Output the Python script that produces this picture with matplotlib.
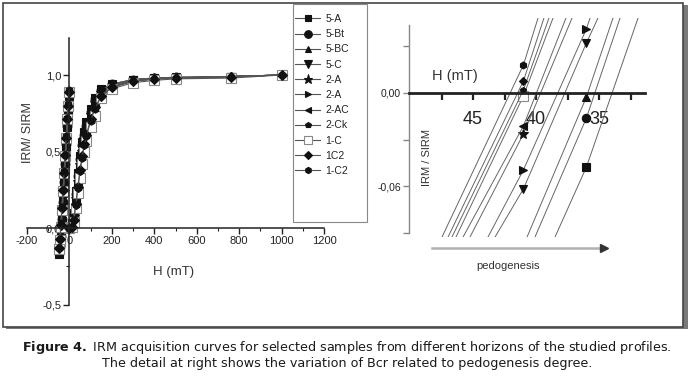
import matplotlib
matplotlib.use("Agg")
import matplotlib.pyplot as plt
from matplotlib.patches import Rectangle
from matplotlib.lines import Line2D
import numpy as np

plt.rcParams['font.family'] = ['Liberation Sans', 'DejaVu Sans']
plt.rcParams['mathtext.fontset'] = 'dejavusans'

# ---------------- data ----------------
series_labels = ['5-A', '5-Bt', '5-BC', '5-C', '2-A', '2-A', '2-AC', '2-Ck', '1-C', '1C2', '1-C2']

fwd_H = [0, 10, 20, 30, 40, 50, 60, 70, 80, 100, 120, 150, 200, 300, 400, 500, 760, 1000]
back_H = [-2, -6, -10, -15, -20, -25, -30, -35, -40, -45, -50]

fwd_5A  = [0.00, 0.03, 0.10, 0.24, 0.36, 0.47, 0.56, 0.63, 0.69, 0.78, 0.85, 0.91, 0.94, 0.97, 0.98, 0.985, 0.99, 1.00]
fwd_5Bt = [0.00, 0.03, 0.09, 0.22, 0.34, 0.45, 0.54, 0.61, 0.67, 0.76, 0.84, 0.90, 0.94, 0.97, 0.98, 0.985, 0.99, 1.00]
fwd_5BC = [0.00, 0.02, 0.08, 0.21, 0.33, 0.44, 0.53, 0.60, 0.66, 0.76, 0.83, 0.90, 0.94, 0.97, 0.98, 0.985, 0.99, 1.00]
fwd_5C  = [0.00, 0.02, 0.07, 0.19, 0.31, 0.42, 0.51, 0.58, 0.64, 0.74, 0.82, 0.89, 0.93, 0.97, 0.98, 0.98, 0.99, 1.00]
fwd_2As = [0.00, 0.02, 0.07, 0.19, 0.30, 0.41, 0.50, 0.58, 0.64, 0.74, 0.82, 0.88, 0.93, 0.96, 0.98, 0.98, 0.99, 1.00]
fwd_2Ar = [0.00, 0.02, 0.06, 0.18, 0.29, 0.40, 0.49, 0.57, 0.63, 0.73, 0.81, 0.88, 0.93, 0.96, 0.975, 0.98, 0.99, 1.00]
fwd_2AC = [0.00, 0.02, 0.07, 0.18, 0.30, 0.41, 0.50, 0.57, 0.63, 0.73, 0.81, 0.88, 0.93, 0.96, 0.975, 0.98, 0.99, 1.00]
fwd_2Ck = [0.00, 0.01, 0.06, 0.17, 0.28, 0.39, 0.48, 0.56, 0.62, 0.72, 0.80, 0.87, 0.92, 0.96, 0.975, 0.98, 0.99, 1.00]
fwd_1C  = [0.00, 0.01, 0.04, 0.13, 0.23, 0.33, 0.42, 0.50, 0.57, 0.66, 0.73, 0.85, 0.91, 0.95, 0.965, 0.975, 0.98, 1.00]
fwd_1C2a = [0.00, 0.01, 0.05, 0.16, 0.27, 0.38, 0.47, 0.55, 0.61, 0.71, 0.79, 0.86, 0.92, 0.96, 0.975, 0.98, 0.99, 1.00]
fwd_1C2b = [0.00, 0.01, 0.05, 0.15, 0.26, 0.37, 0.46, 0.54, 0.60, 0.70, 0.78, 0.86, 0.92, 0.96, 0.975, 0.98, 0.99, 1.00]

back_5A  = [0.86, 0.76, 0.66, 0.53, 0.40, 0.27, 0.14, 0.03, -0.08, -0.14, -0.17]
back_5Bt = [0.87, 0.77, 0.67, 0.55, 0.42, 0.30, 0.17, 0.06, -0.05, -0.12, -0.16]
back_5BC = [0.87, 0.78, 0.68, 0.56, 0.43, 0.31, 0.18, 0.07, -0.04, -0.11, -0.16]
back_5C  = [0.88, 0.78, 0.69, 0.57, 0.45, 0.33, 0.21, 0.09, -0.02, -0.10, -0.15]
back_2As = [0.88, 0.79, 0.70, 0.58, 0.46, 0.34, 0.22, 0.11, 0.00, -0.09, -0.15]
back_2Ar = [0.88, 0.78, 0.69, 0.57, 0.45, 0.33, 0.21, 0.09, -0.02, -0.10, -0.15]
back_2AC = [0.88, 0.79, 0.70, 0.58, 0.46, 0.35, 0.23, 0.11, 0.00, -0.09, -0.14]
back_2Ck = [0.89, 0.80, 0.71, 0.59, 0.47, 0.36, 0.24, 0.12, 0.01, -0.08, -0.14]
back_1C  = [0.89, 0.80, 0.71, 0.59, 0.47, 0.36, 0.24, 0.12, 0.01, -0.08, -0.14]
back_1C2a = [0.89, 0.80, 0.71, 0.59, 0.48, 0.36, 0.25, 0.13, 0.02, -0.07, -0.13]
back_1C2b = [0.90, 0.81, 0.72, 0.60, 0.48, 0.37, 0.25, 0.14, 0.03, -0.07, -0.13]

fwd_values = [fwd_5A, fwd_5Bt, fwd_5BC, fwd_5C, fwd_2As, fwd_2Ar, fwd_2AC, fwd_2Ck, fwd_1C, fwd_1C2a, fwd_1C2b]
back_values = [back_5A, back_5Bt, back_5BC, back_5C, back_2As, back_2Ar, back_2AC, back_2Ck, back_1C, back_1C2a, back_1C2b]

# detail (backfield near Bcr), |H| in mT and IRM/SIRM
det_H_5A  = [38.49, 36.0, 31.90]
det_V_5A  = [-0.0926, -0.0476, 0.0482]
det_H_5Bt = [40.08, 36.0, 33.33]
det_V_5Bt = [-0.0926, -0.0161, 0.0482]
det_H_5BC = [40.71, 36.0, 33.89]
det_V_5BC = [-0.0926, -0.0026, 0.0482]
det_H_5C  = [43.25, 41.0, 36.0, 35.08]
det_V_5C  = [-0.0926, -0.0617, 0.0322, 0.0482]
det_H_2As = [45.24, 41.0, 37.14]
det_V_2As = [-0.0926, -0.0264, 0.0482]
det_H_2Ar = [43.81, 41.0, 36.0, 35.71]
det_V_2Ar = [-0.0926, -0.0495, 0.0412, 0.0482]
det_H_2AC = [45.79, 41.0, 37.62]
det_V_2AC = [-0.0926, -0.0212, 0.0482]
det_H_2Ck = [46.67, 41.0, 38.97]
det_V_2Ck = [-0.0926, 0.0019, 0.0482]
det_H_1C  = [46.35, 41.0, 38.65]
det_V_1C  = [-0.0926, -0.0019, 0.0482]
det_H_1C2a = [46.98, 41.0, 39.37]
det_V_1C2a = [-0.0926, 0.0077, 0.0482]
det_H_1C2b = [47.46, 41.0, 39.84]
det_V_1C2b = [-0.0926, 0.0180, 0.0482]

det_H = [det_H_5A, det_H_5Bt, det_H_5BC, det_H_5C, det_H_2As, det_H_2Ar, det_H_2AC, det_H_2Ck, det_H_1C, det_H_1C2a, det_H_1C2b]
det_V = [det_V_5A, det_V_5Bt, det_V_5BC, det_V_5C, det_V_2As, det_V_2Ar, det_V_2AC, det_V_2Ck, det_V_1C, det_V_1C2a, det_V_1C2b]

main_xticks = [-200, 0, 200, 400, 600, 800, 1000, 1200]
main_yticks = [-0.5, 0.0, 0.5, 1.0]
main_yticklabels = ['-0,5', '0,0', '0,5', '1,0']
det_xticks = [47.5, 45, 42.5, 40, 37.5, 35, 32.5]
det_xticklabels = ['', '45', '', '40', '', '35', '']
det_yticks = [0.03, 0.0, -0.03, -0.06, -0.09]
det_yticklabels = ['', '0,00', '', '-0,06', '']

# ---------------- styles ----------------
markers = ['s', 'o', '^', 'v', '*', '>', '<', 'p', 's', 'D', 'h']
msizes = [5, 5.5, 5, 5.5, 6.5, 5, 5, 4, 6, 4, 4.5]
mfcs = ['#111'] * 8 + ['white', '#111', '#111']
mecs = ['#111'] * 8 + ['#888', '#111', '#111']

W, H = 694, 381
fig = plt.figure(figsize=(W / 100, H / 100), dpi=100)
fig.patch.set_facecolor('white')

def fx(px):
    return px / W

def fy(py):
    return 1 - py / H

# outer frame with shadow
fig.add_artist(Rectangle((fx(6), fy(329)), fx(682), 324 / H, transform=fig.transFigure,
                         facecolor='#7a7a7a', edgecolor='none', zorder=-3))
fig.add_artist(Rectangle((fx(2.5), fy(327)), fx(680), 324 / H, transform=fig.transFigure,
                         facecolor='white', edgecolor='#444', lw=1.2, zorder=-2))

# ---------------- main axes ----------------
ax = fig.add_axes([fx(27), fy(312.2), fx(297), 283.1 / H])
ax.set_facecolor('none')
ax.set_xlim(-200, 1200)
ax.set_ylim(-0.55, 1.3)

handles = []
for i in range(len(series_labels)):
    kw = dict(color='#555', lw=0.8, marker=markers[i], ms=msizes[i] + 0.8,
              mfc=mfcs[i], mec=mecs[i], mew=0.8)
    h, = ax.plot(fwd_H, fwd_values[i], **kw)
    ax.plot(back_H, back_values[i], **kw)
    handles.append(h)

for s in ['top', 'right']:
    ax.spines[s].set_visible(False)
ax.spines['left'].set_position(('data', 0))
ax.spines['bottom'].set_position(('data', 0))
ax.spines['left'].set_bounds(-0.5, 1.24)
ax.spines['bottom'].set_bounds(-200, 1200)
for s in ['left', 'bottom']:
    ax.spines[s].set_color('#222')
    ax.spines[s].set_linewidth(1.1)
ax.set_xticks(main_xticks)
ax.set_xticklabels([str(v) for v in main_xticks])
ax.set_xticks(np.arange(-100, 1200, 200), minor=True)
ax.set_yticks(main_yticks)
ax.set_yticklabels(main_yticklabels)
ax.set_yticks([-0.25, 0.25, 0.75], minor=True)
ax.tick_params(which='major', direction='out', length=4, width=1, color='#222',
               labelsize=8, labelcolor='#222', pad=2)
ax.tick_params(which='minor', direction='out', length=2.5, width=0.8, color='#222')

fig.text(fx(174), fy(272), 'H (mT)', ha='center', va='center', fontsize=9.5, color='#333')
fig.text(fx(28), fy(133), 'IRM/ SIRM', ha='center', va='center', rotation=90,
         fontsize=9, color='#333')

# legend
fig.add_artist(Rectangle((fx(293), fy(222)), fx(74), 218 / H, transform=fig.transFigure,
                         facecolor='white', edgecolor='#888', lw=0.8, zorder=-1))
leg = fig.legend(handles, series_labels, loc='upper left', bbox_to_anchor=(fx(295), fy(14)),
                 bbox_transform=fig.transFigure, frameon=False, fontsize=7.5,
                 handlelength=2.4, handletextpad=0.5, labelspacing=0.5,
                 borderpad=0, borderaxespad=0)
for t in leg.get_texts():
    t.set_color('#222')
for lh in leg.legend_handles:
    lh.set_markersize(lh.get_markersize() - 0.8)

# ---------------- detail axes ----------------
ax2 = fig.add_axes([fx(409), fy(237), fx(236), 219 / H])
ax2.set_facecolor('none')
ax2.set_xlim(50.08, 31.35)
ax2.set_ylim(-0.0926, 0.0482)
for i in range(len(series_labels)):
    n = len(det_H[i])
    ax2.plot(det_H[i], det_V[i], color='#666', lw=0.7, marker=markers[i],
             ms=msizes[i] + 0.5, mfc=mfcs[i], mec=mecs[i], mew=0.8,
             markevery=list(range(1, n - 1)), zorder=2 if i != 8 else 1.5)

for s in ['top', 'right']:
    ax2.spines[s].set_visible(False)
ax2.spines['bottom'].set_position(('data', 0))
ax2.spines['bottom'].set_color('#222')
ax2.spines['bottom'].set_linewidth(2)
ax2.spines['left'].set_color('#888')
ax2.spines['left'].set_linewidth(1)
ax2.spines['left'].set_bounds(-0.090, 0.0437)
ax2.set_xticks(det_xticks)
ax2.set_xticklabels(det_xticklabels)
ax2.set_yticks(det_yticks)
ax2.set_yticklabels(det_yticklabels)
ax2.tick_params(axis='x', direction='out', length=5, width=1.6, color='#222',
                labelsize=13, labelcolor='#222', pad=8)
ax2.tick_params(axis='y', direction='out', length=4, width=1, color='#888',
                labelsize=7.5, labelcolor='#222', pad=2)

ax2.text(48.25, 0.0109, 'H (mT)', ha='left', va='center', fontsize=10.5, color='#333')
ax2.text(48.65, -0.0412, 'IRM / SIRM', ha='center', va='center', rotation=90,
         fontsize=8, color='#333')

# pedogenesis arrow
fig.add_artist(Line2D([fx(432), fx(603)], [fy(248), fy(248)], transform=fig.transFigure,
                      color='#b0b0b0', lw=1.8))
fig.add_artist(Line2D([fx(604)], [fy(248)], transform=fig.transFigure, marker='>',
                      ms=6, color='#333', lw=0))
fig.text(fx(508), fy(266), 'pedogenesis', ha='center', va='center', fontsize=8, color='#333')

# caption
fig.text(0.5, fy(348), r'$\bf{Figure\ 4.}$ IRM acquisition curves for selected samples from different horizons of the studied profiles.',
         ha='center', va='center', fontsize=9.2, color='#1a1a1a', family='DejaVu Sans')
fig.text(0.5, fy(364), 'The detail at right shows the variation of Bcr related to pedogenesis degree.',
         ha='center', va='center', fontsize=9.2, color='#1a1a1a', family='DejaVu Sans')

fig.savefig('out.png', dpi=100, facecolor='white')
